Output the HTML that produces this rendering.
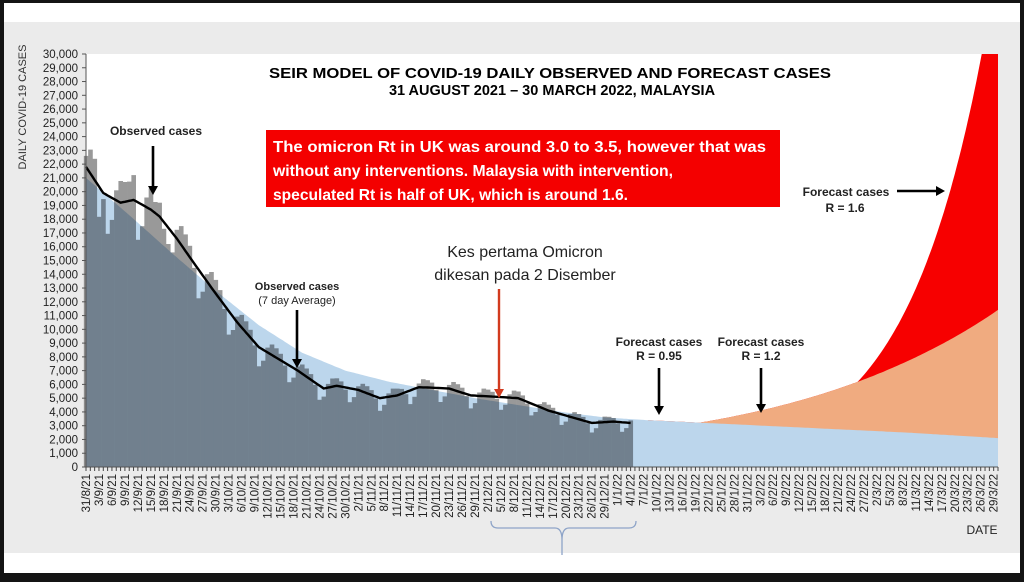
<!DOCTYPE html>
<html><head><meta charset="utf-8"><style>
html,body{margin:0;padding:0;background:#111;}
svg{display:block;font-family:"Liberation Sans",Arial,sans-serif;}
</style></head><body>
<svg id="s" width="1024" height="582" viewBox="0 0 1024 582" xmlns="http://www.w3.org/2000/svg">
<rect x="0" y="0" width="1024" height="582" fill="#141414"/>
<rect x="4" y="3" width="1016" height="570" fill="#ffffff"/>
<rect x="4" y="22" width="1016" height="531" fill="#ebebeb"/>
<rect x="86" y="54" width="912" height="413" fill="#ffffff"/>
<g id="areas"></g>
<g id="bars" style="mix-blend-mode:multiply"></g>
<path id="avg" fill="none" stroke="#000" stroke-width="2.4" stroke-linejoin="round"/>
<g id="axes"></g>
<text x="550" y="78" text-anchor="middle" font-weight="bold" font-size="14.5" textLength="562" lengthAdjust="spacingAndGlyphs">SEIR MODEL OF COVID-19 DAILY OBSERVED AND FORECAST CASES</text>
<text x="552" y="95" text-anchor="middle" font-weight="bold" font-size="14.5">31 AUGUST 2021 – 30 MARCH 2022, MALAYSIA</text>
<text transform="translate(26,107) rotate(-90)" text-anchor="middle" font-size="11" fill="#333">DAILY COVID-19 CASES</text>
<rect x="266" y="130" width="514" height="77" fill="#f40000"/>
<g fill="#fff" font-weight="bold" font-size="16">
<text x="273" y="152" textLength="493" lengthAdjust="spacingAndGlyphs">The omicron Rt in UK was around 3.0 to 3.5, however that was</text>
<text x="273" y="176" textLength="400" lengthAdjust="spacingAndGlyphs">without any interventions. Malaysia with intervention,</text>
<text x="273" y="200" textLength="355" lengthAdjust="spacingAndGlyphs">speculated Rt is half of UK, which is around 1.6.</text>
</g>
<g font-size="12" font-weight="bold" fill="#222">
<text x="156" y="135" text-anchor="middle">Observed cases</text>
<text x="297" y="290" text-anchor="middle" font-size="11">Observed cases</text>
<text x="297" y="304" text-anchor="middle" font-size="11" font-weight="normal">(7 day Average)</text>
<text x="659" y="346" text-anchor="middle">Forecast cases</text>
<text x="659" y="360" text-anchor="middle">R = 0.95</text>
<text x="761" y="346" text-anchor="middle">Forecast cases</text>
<text x="761" y="360" text-anchor="middle">R = 1.2</text>
<text x="846" y="196" text-anchor="middle">Forecast cases</text>
<text x="845" y="212" text-anchor="middle">R = 1.6</text>
</g>
<text x="525" y="257" text-anchor="middle" font-size="16" fill="#222">Kes pertama Omicron</text>
<text x="525" y="280" text-anchor="middle" font-size="16" fill="#222">dikesan pada 2 Disember</text>
<text x="982" y="534" text-anchor="middle" font-size="12" fill="#222">DATE</text>
<g stroke="#000" stroke-width="2.6" fill="#000">
<line x1="153" y1="146" x2="153" y2="186"/><path d="M148,186 L158,186 L153,195Z" stroke="none"/>
<line x1="297" y1="310" x2="297" y2="360"/><path d="M292,359 L302,359 L297,368Z" stroke="none"/>
<line x1="659" y1="368" x2="659" y2="407"/><path d="M654,406 L664,406 L659,415Z" stroke="none"/>
<line x1="761" y1="368" x2="761" y2="405"/><path d="M756,404 L766,404 L761,413Z" stroke="none"/>
<line x1="897" y1="191" x2="937" y2="191"/><path d="M936,186 L936,196 L945,191Z" stroke="none"/>
</g>
<g stroke="#d23a1e" stroke-width="2.4" fill="#d23a1e">
<line x1="499" y1="289" x2="499" y2="390"/><path d="M494,389 L504,389 L499,398Z" stroke="none"/>
</g>
<path d="M491,521 Q491,528 498,528 L555,528 Q562,528 562,540 L562,555 M562,540 Q562,528 569,528 L629,528 Q636,528 636,521" fill="none" stroke="#8ea4c8" stroke-width="1.3"/>
</svg>
<script>
(function(){
var NS="http://www.w3.org/2000/svg";
function X(d){return 86+d*912/211;}
function Y(v){return 467-v*413/30;}
function el(t,a,p){var e=document.createElementNS(NS,t);for(var k in a)e.setAttribute(k,a[k]);(p||document.getElementById('s')).appendChild(e);return e;}
function interp(pts,d){if(d<=pts[0][0])return pts[0][1];for(var i=1;i<pts.length;i++){if(d<=pts[i][0]){var a=pts[i-1],b=pts[i];return a[1]+(b[1]-a[1])*(d-a[0])/(b[0]-a[0]);}}return pts[pts.length-1][1];}
var bp=[[0,21],[10,18.3],[20,15.5],[30,12.8],[40,10.3],[50,8.3],[60,7.0],[70,6.2],[80,5.6],[90,5.0],[100,4.5],[110,4.0],[120,3.6],[130,3.4],[150,3.1],[170,2.8],[190,2.5],[211,2.1]];
function blue(d){return interp(bp,d);}
function orange(d){var t=d-142;return blue(d)+(t>0?3.78*(Math.exp(0.018*t)-1):0);}
function red(d){return Math.max(orange(d),Math.min(31,19.6*Math.exp(0.055*(d-199.5))));}
var ar=document.getElementById('areas');
function area(f,col,d0){var s="M"+X(d0)+","+Y(0);for(var d=d0;d<=211.001;d+=0.5){s+=" L"+X(d).toFixed(1)+","+Y(f(d)).toFixed(1);}s+=" L"+X(211)+","+Y(0)+"Z";el('path',{d:s,fill:col},ar);}
area(red,'#f70000',130);area(orange,'#f0ab80',130);area(blue,'#bcd6ec',0);
el('rect',{x:86,y:40,width:920,height:14,fill:'#ebebeb'},ar);
var ap=[[0,21.8],[4,19.9],[8,19.2],[11,19.4],[15,18.7],[17,18.2],[21,16.6],[25,14.8],[30,12.6],[35,10.5],[40,8.7],[49,7.0],[55,5.7],[58,5.9],[63,5.6],[68,5.0],[72,5.2],[77,5.8],[84,5.7],[89,5.2],[95,5.1],[100,5.0],[107,4.1],[117,3.2],[122,3.3],[126,3.2]];
function avg(d){return interp(ap,d);}
var dev=[1.0,0.7,-0.3,-1.9,-1.1,0.5,1.1];
var special={3:-2.2,10:1.4,11:1.8,16:0.8,17:1.0,18:-0.5,19:-1.2};
var bg=document.getElementById('bars');var w=912/211;
for(var d=0;d<=126;d++){var v=avg(d);var f=v/15+0.15;var dv=dev[(d+5)%7]*f;if(special[d]!==undefined)dv=special[d];var h=Math.max(0,v+dv);
el('rect',{x:(X(d)-w/2).toFixed(2),y:Y(h).toFixed(1),width:(w+0.3).toFixed(2),height:(467-Y(h)).toFixed(1),fill:'#999999'},bg);}
var s="";for(var d=0;d<=126;d+=0.5){s+=(d?" L":"M")+X(d).toFixed(1)+","+Y(avg(d)).toFixed(1);}
document.getElementById('avg').setAttribute('d',s);
var ax=document.getElementById('axes');
el('line',{x1:86,y1:54,x2:86,y2:467,stroke:'#555','stroke-width':1},ax);
el('line',{x1:86,y1:467,x2:998,y2:467,stroke:'#555','stroke-width':1},ax);
for(var i=0;i<=30;i++){var y=Y(i);el('line',{x1:82,y1:y,x2:86,y2:y,stroke:'#555'},ax);
var t=el('text',{x:78,y:y+4,'text-anchor':'end','font-size':'11.5',fill:'#222'},ax);t.textContent=(i?i+",000":"0");}
for(var d=0;d<=211;d++){var x=X(d);el('line',{x1:x,y1:467,x2:x,y2:471,stroke:'#444','stroke-width':1},ax);}
var base=new Date(2021,7,31);
for(var d=0;d<=210;d+=3){var dt=new Date(base.getTime()+d*86400000+3600000*12);var lab=dt.getDate()+"/"+(dt.getMonth()+1)+"/"+(dt.getFullYear()%100);var x=X(d)+4;
var t=el('text',{transform:'translate('+x.toFixed(1)+',474) rotate(-90)','text-anchor':'end','font-size':'11.5',fill:'#222'},ax);t.textContent=lab;}
})();
</script>
</body></html>
